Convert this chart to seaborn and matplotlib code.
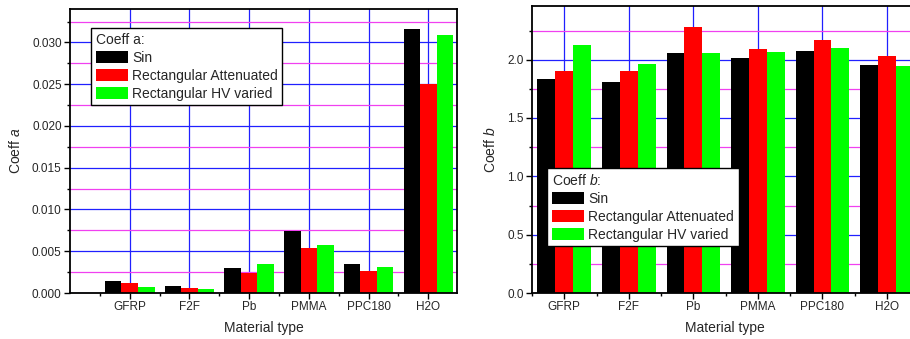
import matplotlib
matplotlib.use("Agg")
import matplotlib.pyplot as plt
import seaborn as sns
import pandas as pd
from matplotlib.ticker import MultipleLocator, FixedLocator

materials = ["GFRP", "F2F", "Pb", "PMMA", "PPC180", "H2O"]
series = ["Sin", "Rectangular Attenuated", "Rectangular HV varied"]
coeff_a_sin = [0.00148, 0.00088, 0.00299, 0.00738, 0.00351, 0.03158]
coeff_a_rect_att = [0.00124, 0.00064, 0.00235, 0.00542, 0.00267, 0.02504]
coeff_a_rect_hv = [0.00072, 0.00052, 0.00351, 0.00578, 0.00315, 0.03094]
coeff_b_sin = [1.835, 1.806, 2.054, 2.014, 2.074, 1.954]
coeff_b_rect_att = [1.900, 1.900, 2.279, 2.094, 2.168, 2.028]
coeff_b_rect_hv = [2.123, 1.960, 2.054, 2.063, 2.097, 1.946]
colors = ["#000000", "#FF0000", "#00FF00"]

sns.set_theme(style="white")
plt.rcParams["font.family"] = ["Liberation Sans", "DejaVu Sans"]
plt.rcParams["mathtext.fontset"] = "custom"
plt.rcParams["mathtext.rm"] = "Liberation Sans"
plt.rcParams["mathtext.it"] = "Liberation Sans:italic"


def long_df(vals):
    rows = []
    for s, v in zip(series, vals):
        for m, x in zip(materials, v):
            rows.append({"Material": m, "Series": s, "Value": x})
    return pd.DataFrame(rows)


df_a = long_df([coeff_a_sin, coeff_a_rect_att, coeff_a_rect_hv])
df_b = long_df([coeff_b_sin, coeff_b_rect_att, coeff_b_rect_hv])

fig = plt.figure(figsize=(9.1, 3.39), dpi=100)
axA = fig.add_axes([70 / 910, 46 / 339, 387 / 910, 284 / 339])
axB = fig.add_axes([532 / 910, 46 / 339, 386 / 910, 287 / 339])


def style(ax, df, xlim, ylim, major, minor, fmt, ylabel, title, legpos, xlab_y):
    ax.set_axisbelow(True)
    sns.barplot(data=df, x="Material", y="Value", hue="Series", order=materials,
                hue_order=series, palette=colors, width=0.83, gap=0,
                saturation=1, ax=ax, legend=True, linewidth=0, errorbar=None)
    ax.set_xlim(*xlim)
    ax.set_ylim(*ylim)
    ax.yaxis.set_major_locator(MultipleLocator(major))
    ax.yaxis.set_minor_locator(MultipleLocator(minor))
    ax.yaxis.set_major_formatter(fmt)
    ax.xaxis.set_minor_locator(FixedLocator([i - 0.5 for i in range(-1, 8)]))
    ax.grid(False)
    ax.grid(True, which="major", axis="both", color="#2020FF", linewidth=0.9)
    ax.grid(True, which="minor", axis="y", color="#F040F0", linewidth=0.9)
    for sp in ax.spines.values():
        sp.set_color("black")
        sp.set_linewidth(1.3)
    ax.tick_params(axis="both", which="major", direction="out", length=4,
                   width=1, color="black", labelsize=8.5, pad=2,
                   bottom=True, left=True)
    ax.tick_params(axis="both", which="minor", direction="out", length=2,
                   width=1, color="black", bottom=True, left=True)
    ax.set_xlabel("Material type", fontsize=10)
    ax.set_ylabel(ylabel, fontsize=10)
    ax.xaxis.set_label_coords(0.5, xlab_y)
    handles, labels = ax.get_legend_handles_labels()
    leg = ax.legend(handles, labels, title=title, loc="upper left",
                    bbox_to_anchor=legpos, borderaxespad=0, fontsize=10,
                    title_fontsize=10, alignment="left", handlelength=2.3,
                    handleheight=0.9, handletextpad=0.3, labelspacing=0.28,
                    borderpad=0.35, fancybox=False, framealpha=1,
                    edgecolor="black")
    leg.get_frame().set_linewidth(1.0)
    leg.set_zorder(10)


style(axA, df_a, (-1.0, 5.48), (0, 0.034), 0.005, 0.0025,
      lambda v, p: f"{v:.3f}", r"Coeff $\it{a}$", "Coeff a:", (0.054, 0.933),
      -0.100)
axA.yaxis.set_label_coords(-0.121, 0.5)

style(axB, df_b, (-0.5, 5.48), (0, 2.46), 0.5, 0.25,
      lambda v, p: f"{v:.1f}", r"Coeff $\it{b}$", r"Coeff $\it{b}$:", (0.039, 0.4355),
      -0.099)
axB.yaxis.set_label_coords(-0.088, 0.5)

fig.savefig("out.png", dpi=100)
